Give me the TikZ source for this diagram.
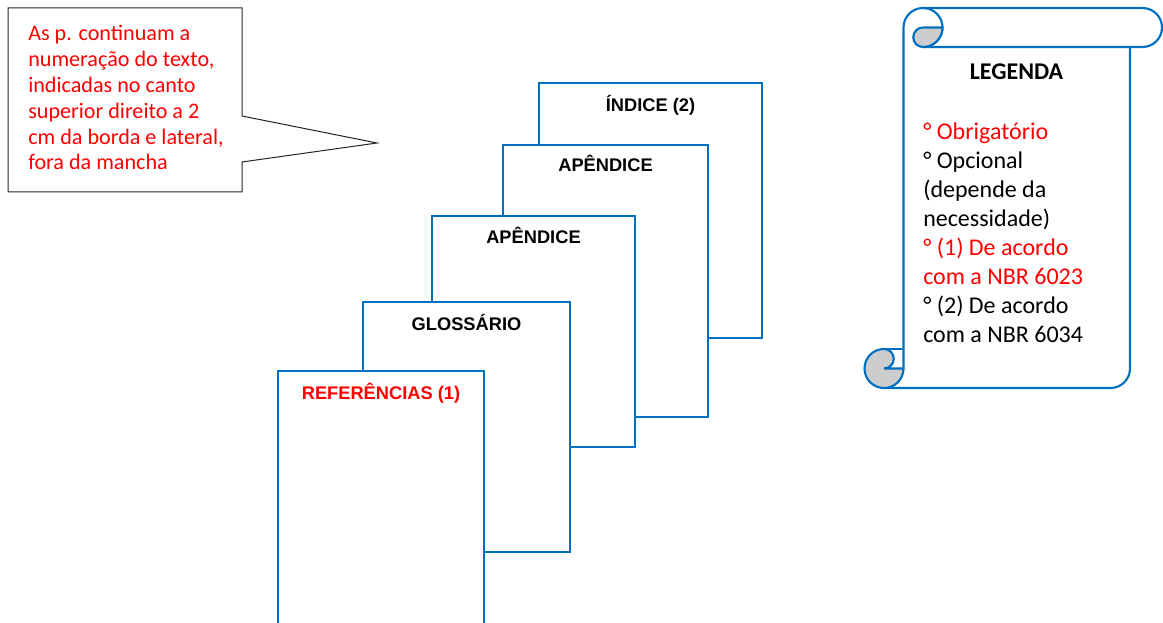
\documentclass[tikz,border=0pt]{standalone}
\usepackage{fontspec}
\setmainfont{Carlito}
\newfontfamily\arialfont{Liberation Sans}
\definecolor{pageblue}{RGB}{0,112,192}
\definecolor{curlgray}{RGB}{205,205,205}

\begin{document}
\begin{tikzpicture}[
    x=0.75pt, y=-0.75pt,
    page/.style={draw=pageblue, line width=1.6pt, fill=white},
    pagetitle/.style={anchor=base, inner sep=0pt, font=\arialfont\bfseries\fontsize{13.7}{16}\selectfont},
    scroll/.style={draw=pageblue, line width=1.6pt},
    curl/.style={scroll, fill=curlgray},
    callout/.style={draw=black!85, line width=0.75pt},
    notetext/.style={anchor=north west, inner sep=0pt, align=left, text=red, font=\fontsize{16.6}{19.4}\selectfont},
    legendtext/.style={anchor=north west, inner sep=0pt, align=left, font=\fontsize{18}{21.75}\selectfont}
]
    \clip (0,0) rectangle (1163,623);

    % callout box
    \draw[callout] (8,8) -- (242,8) -- (242,116) -- (377,143) -- (242,162) -- (242,192) -- (8,192) -- cycle;
    \node[notetext] (nota) at (28,25) {As p. continuam a\\numeração do texto,\\indicadas no canto\\superior direito a 2\\cm da borda e lateral,\\fora da mancha};

    % stacked pages, back to front
    \draw[page] (539,83) rectangle (762,338);
    \node[pagetitle] (indice) at (650.5,112) {ÍNDICE (2)};
    \draw[page] (503,145) rectangle (708,417);
    \node[pagetitle] (apendiceA) at (605.5,172) {APÊNDICE};
    \draw[page] (432,216) rectangle (635,447);
    \node[pagetitle] (apendiceB) at (533.5,244) {APÊNDICE};
    \draw[page] (363,302) rectangle (570,552);
    \node[pagetitle] (glossario) at (466.5,330) {GLOSSÁRIO};
    \draw[page] (278,371) rectangle (484,640);
    \node[pagetitle, text=red] (referencias) at (381,399) {REFERÊNCIAS (1)};

    % legend scroll
    \draw[scroll] (903.5,368.5) -- (903.5,27.5) arc[start angle=180, end angle=270, radius=19.5]
        -- (1142.5,8) arc[start angle=270, end angle=450, radius=19.5] -- (923,47);
    \draw[scroll] (923,47) arc[start angle=90, end angle=-90, radius=19.5];
    \draw[curl] (923,27.5) -- (942.5,27.5) arc[start angle=0, end angle=90, radius=19.5]
        arc[start angle=90, end angle=270, radius=9.75] -- cycle;
    \draw[scroll, rounded corners=14.6pt] (1130,47) -- (1130,388) -- (884,388);
    \draw[curl] (884,349) arc[start angle=270, end angle=0, radius=19.5] -- (884,368.5)
        arc[start angle=90, end angle=-90, radius=9.75] -- cycle;
    \draw[scroll] (884,349) -- (903.5,349);

    \node[anchor=base, inner sep=0pt, font=\bfseries\fontsize{18}{21.75}\selectfont] (legenda) at (1016.5,80) {LEGENDA};
    \node[legendtext] (itens) at (923,123) {\textcolor{red}{° Obrigatório}\\° Opcional\\(depende da\\necessidade)\\\textcolor{red}{° (1) De acordo}\\\textcolor{red}{com a NBR 6023}\\° (2) De acordo\\com a NBR 6034};
\end{tikzpicture}
\end{document}
